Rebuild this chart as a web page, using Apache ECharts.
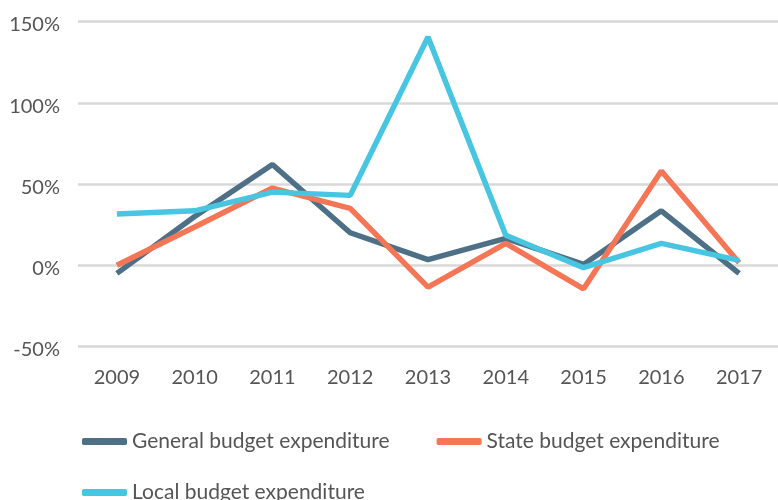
<!DOCTYPE html>
<html>
<head>
<meta charset="utf-8">
<script src="https://cdn.jsdelivr.net/npm/echarts@6/dist/echarts.min.js"></script>
<style>
  html, body { margin: 0; padding: 0; background: #fff; }
  #main { width: 778px; height: 500px; }
</style>
</head>
<body>
<div id="main"></div>
<script>
// data (percent growth)
var years = ['2009', '2010', '2011', '2012', '2013', '2014', '2015', '2016', '2017'];
var generalBudget = [-5, 30, 62, 20, 3.5, 16.5, 0.5, 33.5, -5];
var stateBudget = [0, 23.5, 47.5, 35, -13.5, 13.5, -14.5, 58, 1.5];
var localBudget = [31.5, 33.5, 45, 43, 140.5, 18.5, -1.5, 13.5, 3];

var names = ['General budget expenditure', 'State budget expenditure', 'Local budget expenditure'];
var colors = ['#4d7087', '#f47657', '#48c5e1'];

var myChart = echarts.init(document.getElementById('main'));

var legendText = { color: '#555', fontSize: 21, fontFamily: 'Lato' };

option = {
    color: colors,
    animation: false,
    textStyle: { fontFamily: 'Lato' },
    grid: {
        left: 78,
        right: -3,
        top: 21.5,
        bottom: 153.5
    },
    legend: [
        {
            data: [names[0], names[1]],
            left: 77,
            top: 426,
            itemWidth: 45,
            itemHeight: 7,
            itemGap: 47,
            icon: 'roundRect',
            textStyle: legendText
        },
        {
            data: [names[2]],
            left: 77,
            top: 477,
            itemWidth: 45,
            itemHeight: 7,
            icon: 'roundRect',
            textStyle: legendText
        }
    ],
    xAxis: {
        type: 'category',
        data: years,
        boundaryGap: true,
        axisLine: { show: false },
        axisTick: { show: false },
        axisLabel: { color: '#555', fontSize: 20, margin: 21 }
    },
    yAxis: {
        type: 'value',
        min: -50,
        max: 150,
        interval: 50,
        axisLine: { show: false },
        axisTick: { show: false },
        axisLabel: {
            margin: 18,
            formatter: '{a|{value}%}',
            rich: { a: { color: '#555', fontSize: 20, fontFamily: 'Lato', padding: [7, 0, 0, 0] } }
        },
        splitLine: { lineStyle: { color: '#d9d9d9', width: 2.5 } }
    },
    series: [
        { name: names[0], type: 'line', data: generalBudget, symbol: 'none', lineStyle: { width: 5.5 } },
        { name: names[1], type: 'line', data: stateBudget, symbol: 'none', lineStyle: { width: 5.5 } },
        { name: names[2], type: 'line', data: localBudget, symbol: 'none', lineStyle: { width: 5.5 } }
    ]
};

myChart.setOption(option);
</script>
</body>
</html>
